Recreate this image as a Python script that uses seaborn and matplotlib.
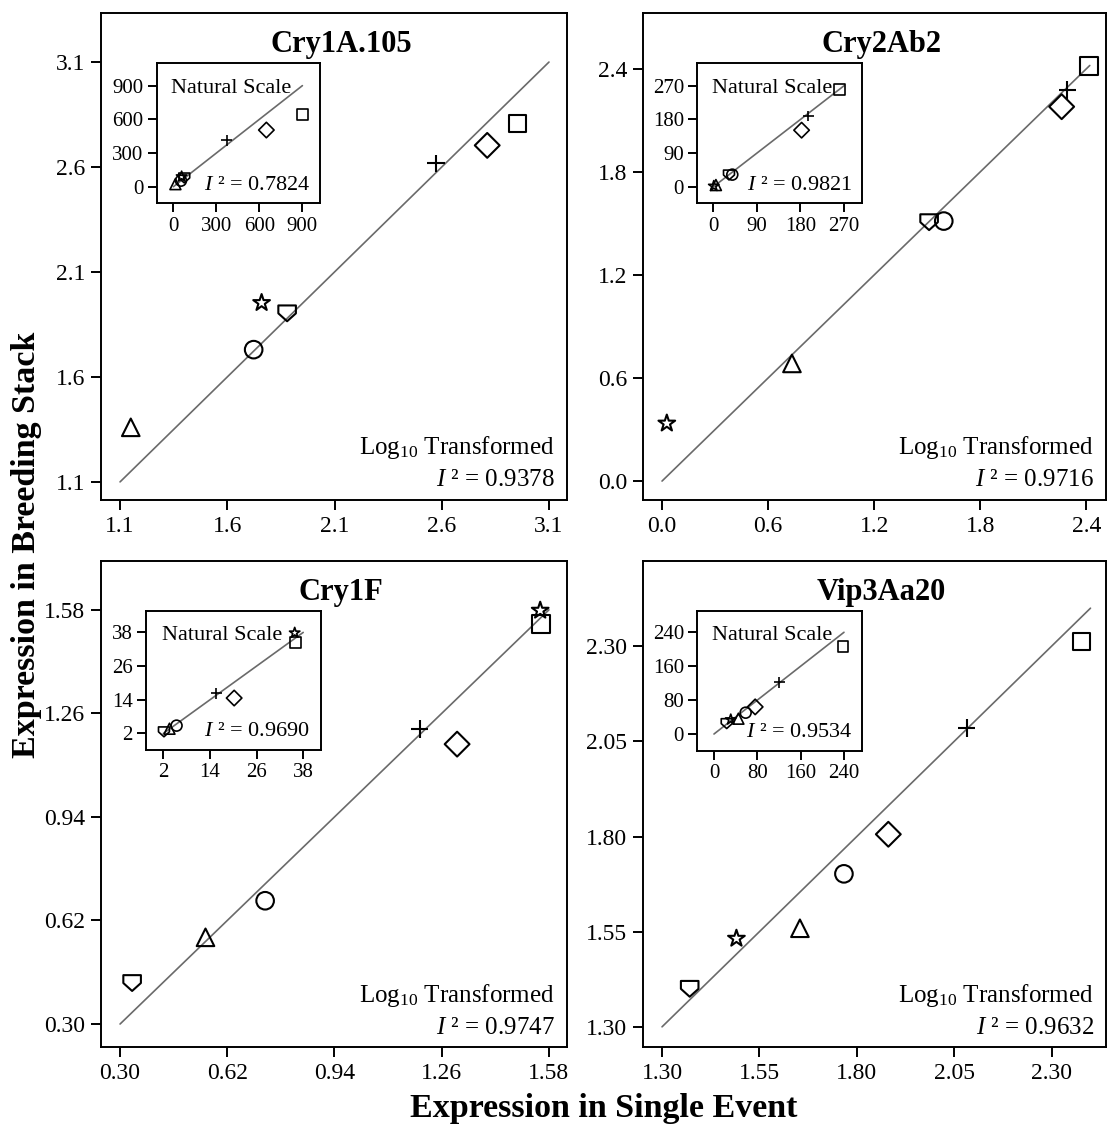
import numpy as np
import pandas as pd
import matplotlib
matplotlib.use("Agg")
import matplotlib.pyplot as plt
from matplotlib.path import Path
import seaborn as sns

# one point per event, in this order
events = ["triangle", "circle", "shield", "star", "plus", "diamond", "square"]

# log10 expression, single event (x) vs breeding stack (y)
cry1a_x = [1.150, 1.723, 1.879, 1.760, 2.572, 2.812, 2.954]
cry1a_y = [1.360, 1.730, 1.905, 1.953, 2.617, 2.703, 2.808]
cry2_x = [0.735, 1.594, 1.511, 0.027, 2.293, 2.261, 2.415]
cry2_y = [0.685, 1.514, 1.510, 0.336, 2.277, 2.180, 2.417]
cry1f_x = [0.555, 0.733, 0.336, 1.554, 1.194, 1.306, 1.557]
cry1f_y = [0.568, 0.681, 0.428, 1.578, 1.211, 1.165, 1.537]
vip_x = [1.654, 1.767, 1.371, 1.491, 2.082, 1.881, 2.377]
vip_y = [1.559, 1.702, 1.401, 1.532, 2.085, 1.806, 2.313]

titles = ["Cry1A.105", "Cry2Ab2", "Cry1F", "Vip3Aa20"]
r2_log = ["0.9378", "0.9716", "0.9747", "0.9632"]
r2_nat = ["0.7824", "0.9821", "0.9690", "0.9534"]

ticks_log = [[1.1, 1.6, 2.1, 2.6, 3.1],
             [0.0, 0.6, 1.2, 1.8, 2.4],
             [0.30, 0.62, 0.94, 1.26, 1.58],
             [1.30, 1.55, 1.80, 2.05, 2.30]]
tick_fmt = ["{:.1f}", "{:.1f}", "{:.2f}", "{:.2f}"]
ticks_nat = [[0, 300, 600, 900],
             [0, 90, 180, 270],
             [2, 14, 26, 38],
             [0, 80, 160, 240]]

# 1:1 line extents
line_log = [(1.1, 3.1), (0.0, 2.42), (0.30, 1.58), (1.30, 2.40)]
line_nat = [(0, 900), (0, 270), (2, 38), (0, 240)]

# layout (figure fractions / axis limits)
main_rect = [[0.0912, 0.5552, 0.4210, 0.4333],
             [0.5808, 0.5552, 0.4180, 0.4333],
             [0.0912, 0.0685, 0.4210, 0.4324],
             [0.5808, 0.0685, 0.4180, 0.4324]]
main_xlim = [(1.011, 3.184), (-0.108, 2.51), (0.243, 1.634), (1.251, 2.439)]
main_ylim = [(1.014, 3.334), (-0.11, 2.726), (0.229, 1.731), (1.247, 2.524)]
inset_rect = [[0.1416, 0.8191, 0.1475, 0.1246],
              [0.6299, 0.8191, 0.1485, 0.1246],
              [0.1319, 0.3327, 0.1578, 0.1239],
              [0.6299, 0.3321, 0.1485, 0.1246]]
inset_xlim = [(-116, 1023), (-33, 306.5), (-2.45, 42.5), (-30.8, 272.7)]
inset_ylim = [(-148, 1099), (-44, 330), (-3.9, 45.7), (-39.4, 291)]

sns.set_theme(style="ticks")
plt.rcParams["font.family"] = ["Liberation Serif", "DejaVu Serif"]
plt.rcParams["mathtext.fontset"] = "custom"
plt.rcParams["mathtext.rm"] = "Liberation Serif"
plt.rcParams["mathtext.it"] = "Liberation Serif:italic"
plt.rcParams["mathtext.bf"] = "Liberation Serif:bold"
plt.rcParams["text.color"] = "black"
plt.rcParams["axes.labelcolor"] = "black"
plt.rcParams["axes.edgecolor"] = "black"
plt.rcParams["axes.linewidth"] = 1.4
plt.rcParams["xtick.color"] = "black"
plt.rcParams["ytick.color"] = "black"
plt.rcParams["xtick.labelcolor"] = "black"
plt.rcParams["ytick.labelcolor"] = "black"

shield = Path([(-1, 0.85), (1, 0.85), (1, -0.05), (0, -0.95), (-1, -0.05), (-1, 0.85)],
              [Path.MOVETO, Path.LINETO, Path.LINETO, Path.LINETO, Path.LINETO, Path.CLOSEPOLY])
plus = Path([(-1, 0), (1, 0), (0, -1), (0, 1)],
            [Path.MOVETO, Path.LINETO, Path.MOVETO, Path.LINETO])
marker_map = {"triangle": "^", "circle": "o", "shield": shield, "star": "*",
              "plus": plus, "diamond": "D", "square": "s"}

xs = [cry1a_x, cry2_x, cry1f_x, vip_x]
ys = [cry1a_y, cry2_y, cry1f_y, vip_y]

fig = plt.figure(figsize=(11.07, 11.24), dpi=100)

for i in range(4):
    df = pd.DataFrame({"x": xs[i], "y": ys[i], "event": events})
    df["x_nat"] = 10 ** df["x"]
    df["y_nat"] = 10 ** df["y"]

    ax = fig.add_axes(main_rect[i])
    lo, hi = line_log[i]
    ax.plot([lo, hi], [lo, hi], color="#6a6a6a", lw=1.2, zorder=1)
    sns.scatterplot(data=df, x="x", y="y", style="event", markers=marker_map,
                    s=160, facecolor="none", edgecolor="black", linewidth=1.5,
                    legend=False, ax=ax, zorder=3)
    ax.set_xlim(main_xlim[i])
    ax.set_ylim(main_ylim[i])
    ax.set_xticks(ticks_log[i])
    ax.set_yticks(ticks_log[i])
    ax.set_xticklabels([tick_fmt[i].format(t) for t in ticks_log[i]])
    ax.set_yticklabels([tick_fmt[i].format(t) for t in ticks_log[i]])
    ax.tick_params(labelsize=17, length=7.5, width=1.4, pad=4, direction="out")
    ax.set_xlabel("")
    ax.set_ylabel("")
    ax.text(0.515, 0.935, titles[i], transform=ax.transAxes, ha="center", va="center",
            fontsize=22, fontweight="bold")
    ax.text(0.974, 0.107, r"Log$_{10}$ Transformed", transform=ax.transAxes,
            ha="right", va="center", fontsize=18)
    ax.text(0.974, 0.04, r"$I$ ² = " + r2_log[i], transform=ax.transAxes,
            ha="right", va="center", fontsize=18)

    ins = fig.add_axes(inset_rect[i])
    lo, hi = line_nat[i]
    ins.plot([lo, hi], [lo, hi], color="#6a6a6a", lw=1.2, zorder=1)
    sns.scatterplot(data=df, x="x_nat", y="y_nat", style="event", markers=marker_map,
                    s=62, facecolor="none", edgecolor="black", linewidth=1.2,
                    legend=False, ax=ins, zorder=3)
    ins.set_xlim(inset_xlim[i])
    ins.set_ylim(inset_ylim[i])
    ins.set_xticks(ticks_nat[i])
    ins.set_yticks(ticks_nat[i])
    ins.tick_params(labelsize=15, length=6.5, width=1.4, pad=3, direction="out")
    ins.set_xlabel("")
    ins.set_ylabel("")
    ins.text(0.09, 0.82, "Natural Scale", transform=ins.transAxes,
             ha="left", va="center", fontsize=16)
    ins.text(0.94, 0.13, r"$I$ ² = " + r2_nat[i], transform=ins.transAxes,
             ha="right", va="center", fontsize=16)

fig.text(0.024, 0.515, "Expression in Breeding Stack", rotation=90,
         ha="center", va="center", fontsize=24.5, fontweight="bold")
fig.text(0.545, 0.006, "Expression in Single Event", ha="center", va="baseline",
         fontsize=24.5, fontweight="bold")

fig.savefig("out.png", dpi=100)
